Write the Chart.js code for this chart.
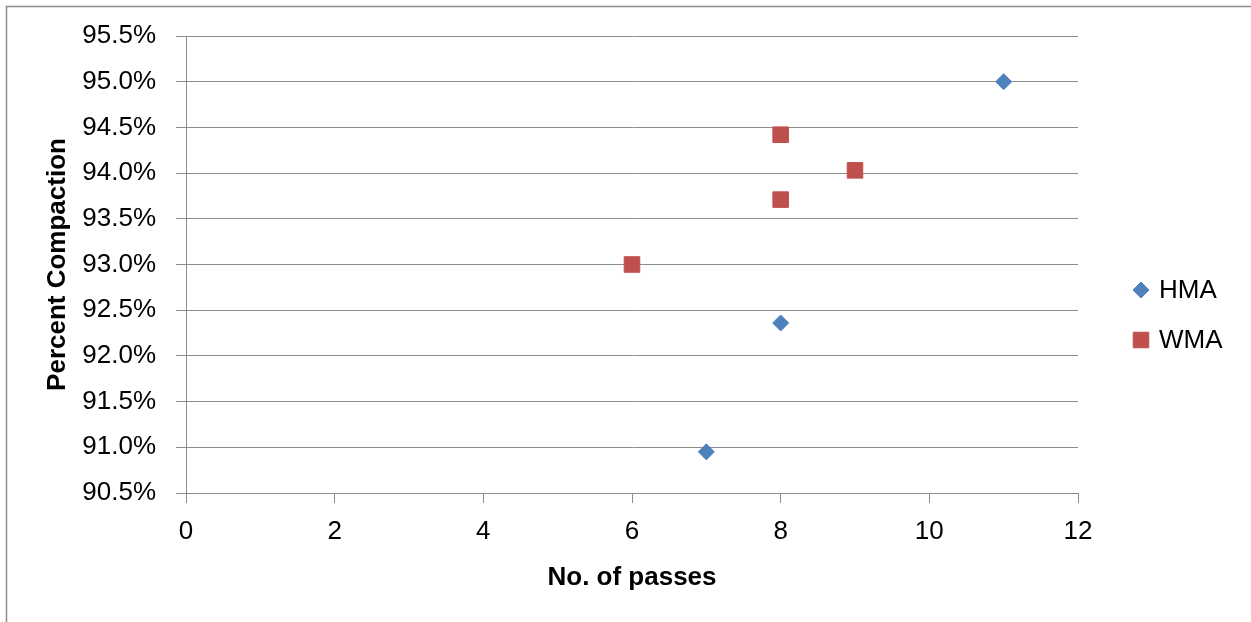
<!DOCTYPE html>
<html>
<head>
<meta charset="utf-8">
<script src="https://cdn.jsdelivr.net/npm/chart.js@4.4.0/dist/chart.umd.min.js"></script>
<style>
  html, body { margin: 0; padding: 0; background: #fff; overflow: hidden; }
  canvas { display: block; }
</style>
</head>
<body>
<canvas id="compactionChart" width="1251" height="622"></canvas>
<script>
/* ==================== Data ==================== */
const seriesNames = ['HMA', 'WMA'];
const hmaPasses = [7, 8, 11];
const hmaCompaction = [90.95, 92.36, 95.0];
const wmaPasses = [6, 8, 8, 9];
const wmaCompaction = [93.0, 93.71, 94.42, 94.03];
const xTicks = [0, 2, 4, 6, 8, 10, 12];
const yTicks = [90.5, 91.0, 91.5, 92.0, 92.5, 93.0, 93.5, 94.0, 94.5, 95.0, 95.5];

/* ==================== Style ==================== */
const FONT = "'Liberation Sans', Arial, sans-serif";
const GRID = '#8c8c8c';
const HMA_COLOR = '#4F81BD';
const WMA_COLOR = '#C0504D';

function toPoints(xs, ys) {
    return xs.map((x, i) => ({ x: x, y: ys[i] }));
}

// outer frame of the chart object (cropped on right/bottom)
const framePlugin = {
    id: 'frame',
    beforeDraw(chart) {
        const ctx = chart.ctx;
        ctx.save();
        ctx.fillStyle = '#fff';
        ctx.fillRect(0, 0, chart.width, chart.height);
        ctx.strokeStyle = '#8c8c8c';
        ctx.lineWidth = 1.5;
        ctx.strokeRect(6.5, 6.5, chart.width + 20, chart.height + 20);
        ctx.restore();
    }
};

// legend drawn at the right like the original
const sideLegend = {
    id: 'sideLegend',
    afterDraw(chart) {
        const ctx = chart.ctx;
        const x = 1141;
        const yStart = 290;
        const gap = 50;
        chart.data.datasets.forEach((ds, i) => {
            const y = yStart + i * gap;
            ctx.save();
            ctx.fillStyle = ds.backgroundColor;
            ctx.strokeStyle = ds.borderColor;
            Chart.helpers.drawPoint(ctx, {
                pointStyle: ds.pointStyle,
                radius: ds.pointRadius,
                rotation: 0,
                borderWidth: ds.borderWidth
            }, x, y);
            ctx.fillStyle = '#000';
            ctx.font = '26px ' + FONT;
            ctx.textBaseline = 'middle';
            ctx.textAlign = 'left';
            ctx.fillText(ds.label, 1159, y + 1);
            ctx.restore();
        });
    }
};

const ctx = document.getElementById('compactionChart');
new Chart(ctx, {
    type: 'scatter',
    data: {
        datasets: [
            {
                label: seriesNames[0],
                data: toPoints(hmaPasses, hmaCompaction),
                pointStyle: 'rectRot',
                pointRadius: 8,
                borderWidth: 1,
                backgroundColor: HMA_COLOR,
                borderColor: HMA_COLOR
            },
            {
                label: seriesNames[1],
                data: toPoints(wmaPasses, wmaCompaction),
                pointStyle: 'rect',
                pointRadius: 11,
                borderWidth: 1,
                backgroundColor: WMA_COLOR,
                borderColor: WMA_COLOR
            }
        ]
    },
    options: {
        responsive: false,
        animation: false,
        layout: { padding: { left: 38, right: 173, top: 36, bottom: 25 } },
        plugins: {
            legend: { display: false },
            tooltip: { enabled: false }
        },
        scales: {
            x: {
                type: 'linear',
                min: xTicks[0],
                max: xTicks[xTicks.length - 1],
                afterBuildTicks: (scale) => { scale.ticks = xTicks.map(v => ({ value: v })); },
                afterFit: (scale) => { scale.height = 104; },
                grid: { drawOnChartArea: false, color: GRID, tickLength: 10, lineWidth: 1 },
                border: { color: GRID, width: 1 },
                ticks: { color: '#000', padding: 13, font: { family: FONT, size: 26 } },
                title: {
                    display: true,
                    text: 'No. of passes',
                    color: '#000',
                    padding: 4,
                    font: { family: FONT, size: 26, weight: 'bold' }
                }
            },
            y: {
                min: yTicks[0],
                max: yTicks[yTicks.length - 1],
                afterBuildTicks: (scale) => { scale.ticks = yTicks.map(v => ({ value: v })); },
                afterFit: (scale) => { scale.width = 148; },
                grid: { color: GRID, tickLength: 10, lineWidth: 1 },
                border: { color: GRID, width: 1 },
                ticks: {
                    color: '#000',
                    padding: 20,
                    font: { family: FONT, size: 26 },
                    callback: (v) => v.toFixed(1) + '%'
                },
                title: {
                    display: true,
                    text: 'Percent Compaction',
                    color: '#000',
                    padding: 4,
                    font: { family: FONT, size: 26, weight: 'bold' }
                }
            }
        }
    },
    plugins: [framePlugin, sideLegend]
});
</script>
</body>
</html>
